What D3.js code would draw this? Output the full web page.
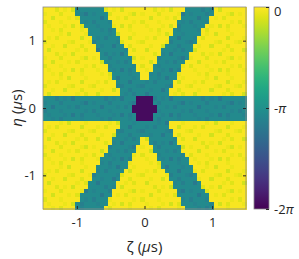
<!DOCTYPE html>
<html>
<head>
<meta charset="utf-8">
<script src="https://cdn.jsdelivr.net/npm/d3@7"></script>
<style>
  body { margin: 0; background: #fff; }
  svg { display: block; }
  text { font-family: "Open Sans", sans-serif; fill: #262626; }
</style>
</head>
<body>
<div id="chart"></div>
<script>
// Axis ticks
const zetaTicks = [-1, 0, 1];
const etaTicks = [-1, 0, 1];
const phaseTicks = [0, -Math.PI, -2 * Math.PI];
const phaseLabels = ["0", "-π", "-2π"];

// Grid (μs)
const gridN = 50;
const gridExtent = [-1.5, 1.5];

// Three bands through the origin (angle from ζ axis, degrees)
const bandAngles = [0, 61, 119];
const bandHalfWidth = 0.19;
const bandPhase = -3.3;
// Dark hexagonal core
const coreRadius = 0.2;
const corePhase = -6.1;
// Background phase
const backPhase = -0.06;

// Hand-read texture tile: extra phase lag, tenths of a radian
const textureTile = [
  "001020000100",
  "010001030200",
  "200010000010",
  "003000102000",
  "100020000130",
  "000201030000",
  "030000001020",
  "001003000200",
  "200000120001",
  "010200000300",
  "000010300010"
];

// Define constants
const w = 299;
const h = 259;
const plot = { left: 43, right: 246, top: 7, bottom: 209 };
const cbar = { left: 254, right: 269 };

const xScale = d3.scaleLinear().domain(gridExtent).range([plot.left, plot.right]);
const yScale = d3.scaleLinear().domain(gridExtent).range([plot.bottom, plot.top]);
const color = d3.scaleSequential(d3.interpolateViridis).domain([-2 * Math.PI, 0]);
const cScale = d3.scaleLinear().domain([-2 * Math.PI, 0]).range([plot.bottom, plot.top]);

// Build cells
const step = (gridExtent[1] - gridExtent[0]) / gridN;
const cells = [];
for (let i = 0; i < gridN; i++) {
  for (let j = 0; j < gridN; j++) {
    const z = gridExtent[0] + (i + 0.5) * step;
    const e = gridExtent[0] + (j + 0.5) * step;
    const tex = +textureTile[j % textureTile.length][i % textureTile[0].length] / 10;
    // hexagon, pointy left/right
    const ax = Math.abs(z), ay = Math.abs(e);
    const inCore = ay <= coreRadius * Math.sqrt(3) / 2 &&
      Math.sqrt(3) * ax + ay <= Math.sqrt(3) * coreRadius;
    const inBand = bandAngles.some((a) => {
      const r = a * Math.PI / 180;
      return Math.abs(-Math.sin(r) * z + Math.cos(r) * e) <= bandHalfWidth;
    });
    let v;
    if (inCore) v = corePhase;
    else if (inBand) v = bandPhase - tex * 1.5;
    else v = backPhase - tex * 1.2;
    cells.push({ z, e, v });
  }
}

d3.select("#chart").selectAll("*").remove();
const svg = d3.select("#chart").append("svg")
  .attr("width", w)
  .attr("height", h);

svg.append("g")
  .attr("shape-rendering", "crispEdges")
  .selectAll("rect")
  .data(cells)
  .enter()
  .append("rect")
  .attr("x", (d) => xScale(d.z - step / 2))
  .attr("y", (d) => yScale(d.e + step / 2))
  .attr("width", xScale(step) - xScale(0) + 0.6)
  .attr("height", yScale(0) - yScale(step) + 0.6)
  .attr("fill", (d) => color(d.v));

// Box
svg.append("rect")
  .attr("x", plot.left)
  .attr("y", plot.top)
  .attr("width", plot.right - plot.left)
  .attr("height", plot.bottom - plot.top)
  .attr("fill", "none")
  .attr("stroke", "#8a8a8a")
  .attr("stroke-width", 0.8);

// Axes
const xAxis = d3.axisBottom(xScale).tickValues(zetaTicks).tickSize(-3).tickPadding(9).tickFormat(d3.format("d"));
const yAxis = d3.axisLeft(yScale).tickValues(etaTicks).tickSize(-3).tickPadding(7).tickFormat(d3.format("d"));

const gx = svg.append("g").attr("transform", `translate(0, ${plot.bottom})`).call(xAxis);
const gy = svg.append("g").attr("transform", `translate(${plot.left}, 0)`).call(yAxis);
// mirrored ticks
svg.append("g").attr("transform", `translate(0, ${plot.top})`)
  .call(d3.axisTop(xScale).tickValues(zetaTicks).tickSize(-3).tickFormat(""));
svg.append("g").attr("transform", `translate(${plot.right}, 0)`)
  .call(d3.axisRight(yScale).tickValues(etaTicks).tickSize(-3).tickFormat(""));

svg.selectAll(".domain").remove();
svg.selectAll(".tick line").attr("stroke", "#262626");
svg.selectAll(".tick text")
  .style("font-size", "13px")
  .style("font-family", "'Open Sans', sans-serif")
  .attr("fill", "#262626");
gx.selectAll(".tick text").text((d) => d < 0 ? "-" + Math.abs(d) : d);
gy.selectAll(".tick text").text((d) => d < 0 ? "-" + Math.abs(d) : d);

// Axis labels
const xl = svg.append("text")
  .attr("x", xScale(0))
  .attr("y", 252)
  .attr("text-anchor", "middle")
  .style("font-size", "15px");
xl.append("tspan").text("ζ (");
xl.append("tspan").style("font-style", "italic").text("μ");
xl.append("tspan").text("s)");

const yl = svg.append("text")
  .attr("transform", `translate(22, ${yScale(0)}) rotate(-90)`)
  .attr("text-anchor", "middle")
  .style("font-size", "15px");
yl.append("tspan").style("font-style", "italic").text("η");
yl.append("tspan").text(" (");
yl.append("tspan").style("font-style", "italic").text("μ");
yl.append("tspan").text("s)");

// Colorbar
const defs = svg.append("defs");
const grad = defs.append("linearGradient")
  .attr("id", "cbar")
  .attr("x1", 0).attr("y1", 1).attr("x2", 0).attr("y2", 0);
grad.selectAll("stop")
  .data(d3.range(0, 21).map((k) => k / 20))
  .enter()
  .append("stop")
  .attr("offset", (t) => t)
  .attr("stop-color", (t) => d3.interpolateViridis(t));

svg.append("rect")
  .attr("x", cbar.left)
  .attr("y", plot.top)
  .attr("width", cbar.right - cbar.left)
  .attr("height", plot.bottom - plot.top)
  .attr("fill", "url(#cbar)")
  .attr("stroke", "#8a8a8a")
  .attr("stroke-width", 0.8);

const cg = svg.append("g").attr("transform", `translate(${cbar.right}, 0)`)
  .call(d3.axisRight(cScale).tickValues(phaseTicks).tickSize(-3).tickPadding(5));
cg.select(".domain").remove();
cg.selectAll(".tick line").attr("stroke", "#262626");
cg.selectAll(".tick text").each(function (d) {
  const t = d3.select(this).text("").style("font-size", "13px");
  const lab = phaseLabels[phaseTicks.indexOf(d)];
  if (lab === "0") {
    t.text("0").attr("dy", "0.62em");
  } else {
    t.append("tspan").text(lab.replace("π", ""));
    t.append("tspan").style("font-style", "italic").text("π");
  }
});
</script>
</body>
</html>
